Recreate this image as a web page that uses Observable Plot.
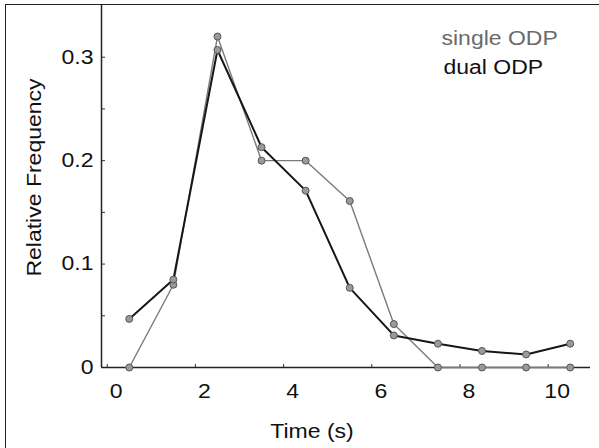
<!DOCTYPE html>
<html><head><meta charset="utf-8">
<script src="https://cdn.jsdelivr.net/npm/d3@7"></script>
<script src="https://cdn.jsdelivr.net/npm/@observablehq/plot@0.6"></script>
<style>
body{margin:0;background:#fff;}
#wrap{position:relative;width:599px;height:448px;overflow:hidden;background:#fff;}
#border{position:absolute;left:5px;top:4px;width:600px;height:460px;border-left:1.5px solid #222;border-top:1.5px solid #222;}
#wrap svg{position:absolute;left:0;top:0;}
</style></head><body><div id="wrap"><div id="border"></div></div>
<script>
const time = [0.5, 1.5, 2.5, 3.5, 4.5, 5.5, 6.5, 7.5, 8.5, 9.5, 10.5];
const singleODP = [0, 0.080, 0.320, 0.200, 0.200, 0.161, 0.042, 0, 0, 0, 0];
const dualODP = [0.047, 0.085, 0.307, 0.213, 0.171, 0.077, 0.031, 0.023, 0.016, 0.0126, 0.023];
const seriesNames = ["single ODP", "dual ODP"];
const xTicks = [0, 2, 4, 6, 8, 10];
const yMajorTicks = [0, 0.1, 0.2, 0.3];
const yMinorTicks = [0.05, 0.15, 0.25];
const xLabel = "Time (s)";
const yLabel = "Relative Frequency";
const xDomain = [-0.13, 10.96];
const yDomain = [0, 0.35];

const singleData = time.map((t, i) => ({t, v: singleODP[i]}));
const dualData = time.map((t, i) => ({t, v: dualODP[i]}));
const font = '"Liberation Sans", Arial, Helvetica, sans-serif';

const plot = Plot.plot({
  width: 599, height: 448,
  marginLeft: 101, marginRight: 9, marginTop: 5, marginBottom: 81,
  style: {fontFamily: font, background: "transparent", color: "#111"},
  x: {domain: xDomain},
  y: {domain: yDomain},
  marks: [
    Plot.axisY({ticks: yMinorTicks.concat(yMajorTicks), tickSize: -4, tickFormat: () => "", label: null, stroke: "#333"}),
    Plot.axisY({ticks: yMajorTicks, tickSize: 0, tickPadding: 8, tickFormat: d => d === 0 ? "0" : d.toFixed(1), label: null, fontSize: 20, fill: "#111"}),
    Plot.axisX({ticks: xTicks, tickSize: -3, tickFormat: () => "", label: null, stroke: "#333"}),
    Plot.axisX({ticks: xTicks, tickSize: 0, tickPadding: 16, dx: 9, label: null, fontSize: 20, fill: "#111"}),
    Plot.ruleY([0], {stroke: "#222", strokeWidth: 1.5}),
    Plot.ruleX([xDomain[0]], {stroke: "#222", strokeWidth: 1.5}),
    Plot.line(singleData, {x: "t", y: "v", stroke: "#7a7a7a", strokeWidth: 1.4}),
    Plot.line(dualData, {x: "t", y: "v", stroke: "#161616", strokeWidth: 2}),
    Plot.dot(singleData, {x: "t", y: "v", r: 3.5, fill: "#9a9a9a", stroke: "#555", strokeWidth: 1}),
    Plot.dot(dualData, {x: "t", y: "v", r: 3.5, fill: "#9a9a9a", stroke: "#555", strokeWidth: 1}),
    Plot.text([seriesNames[0]], {frameAnchor: "top-left", textAnchor: "start", lineAnchor: "top", dx: 340, dy: 25, fontSize: 20, fill: "#6a6a6a"}),
    Plot.text([seriesNames[1]], {frameAnchor: "top-left", textAnchor: "start", lineAnchor: "top", dx: 342, dy: 54, fontSize: 20, fill: "#111"}),
    Plot.text([xLabel], {frameAnchor: "bottom", textAnchor: "middle", lineAnchor: "middle", dx: -34, dy: 64, fontSize: 20, fill: "#111"}),
    Plot.text([yLabel], {frameAnchor: "left", textAnchor: "middle", lineAnchor: "middle", rotate: -90, dx: -67, dy: -9, fontSize: 20, fill: "#111"})
  ]
});
document.getElementById("wrap").appendChild(plot);
d3.select(plot).selectAll("text").each(function() {
  const L = this.getComputedTextLength();
  if (L > 0) {
    this.setAttribute("textLength", (L * 1.15).toFixed(1));
    this.setAttribute("lengthAdjust", "spacingAndGlyphs");
  }
});
</script></body></html>
